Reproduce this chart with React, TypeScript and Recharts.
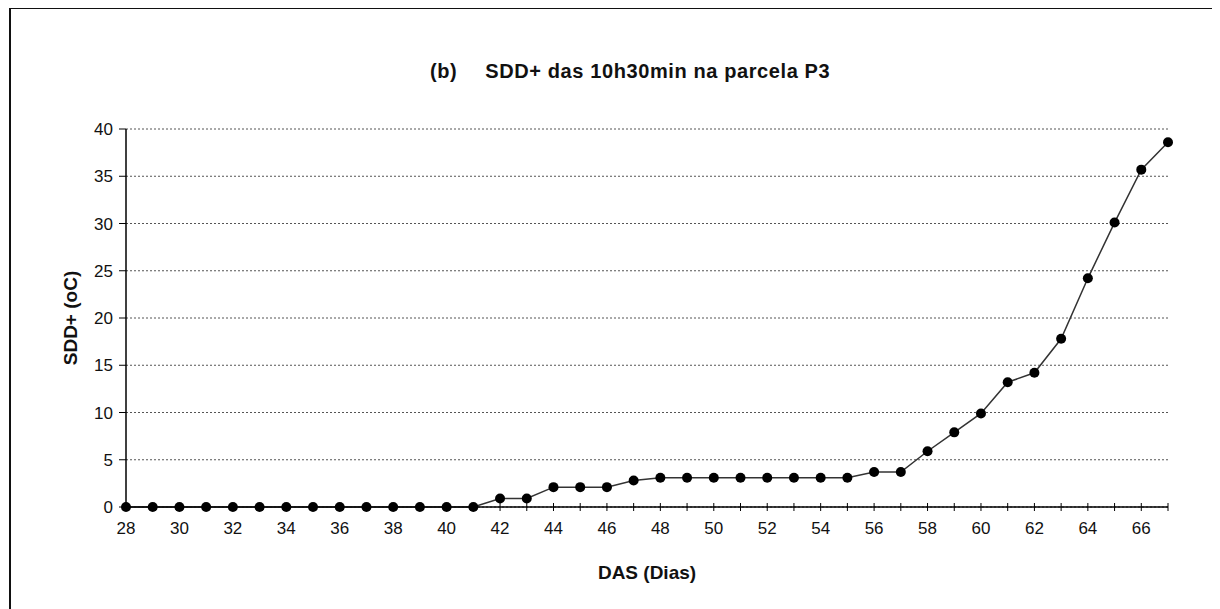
import React from "react";
import { CartesianGrid, Line, LineChart, XAxis, YAxis } from "recharts";

const days = [
  28, 29, 30, 31, 32, 33, 34, 35, 36, 37, 38, 39, 40, 41, 42, 43, 44, 45, 46, 47,
  48, 49, 50, 51, 52, 53, 54, 55, 56, 57, 58, 59, 60, 61, 62, 63, 64, 65, 66, 67
];

const sddPlus = [
  0, 0, 0, 0, 0, 0, 0, 0, 0, 0, 0, 0, 0, 0, 0.9, 0.9, 2.1, 2.1, 2.1, 2.8,
  3.1, 3.1, 3.1, 3.1, 3.1, 3.1, 3.1, 3.1, 3.7, 3.7, 5.9, 7.9, 9.9, 13.2, 14.2, 17.8, 24.2, 30.1, 35.7, 38.6
];

const yTicks = [0, 5, 10, 15, 20, 25, 30, 35, 40];

const FONT = '"Liberation Sans", Arial, sans-serif';

const data = days.map((day, i) => ({ day, value: sddPlus[i] }));

function DayTick(props: any) {
  const { x, y, payload } = props;
  const showLabel = payload.value % 2 === 0;
  return (
    <g>
      <line x1={x} x2={x} y1={y - 4} y2={y + 4} stroke="#000" strokeWidth={1} />
      {showLabel && (
        <text x={x} y={y + 27} textAnchor="middle" fontSize={17} fontFamily={FONT} fill="#111">
          {payload.value}
        </text>
      )}
    </g>
  );
}

export default function App() {
  return (
    <div style={{ position: "relative", width: 1212, height: 601, fontFamily: FONT }}>
      <div
        style={{
          position: "absolute",
          left: 1,
          top: -1,
          right: -20,
          bottom: -20,
          borderTop: "2px solid #111",
          borderLeft: "2px solid #111"
        }}
      />
      <div
        style={{
          position: "absolute",
          left: 422,
          top: 52,
          fontSize: 20,
          fontWeight: "bold",
          letterSpacing: 0.6,
          color: "#111",
          whiteSpace: "pre"
        }}
      >
        <span>(b)</span>
        <span style={{ marginLeft: 28 }}>SDD+ das 10h30min na parcela P3</span>
      </div>
      <LineChart width={1212} height={601} data={data} margin={{ top: 121, right: 52, left: 58, bottom: 62 }}>
        <CartesianGrid vertical={false} stroke="#555" strokeDasharray="2 2" />
        <XAxis
          dataKey="day"
          type="number"
          domain={[28, 67]}
          ticks={days}
          interval={0}
          height={40}
          tickSize={0}
          tickMargin={0}
          tick={<DayTick />}
          axisLine={{ stroke: "#000", strokeWidth: 1.5 }}
          label={{
            content: (p: any) => (
              <text
                x={p.viewBox.x + p.viewBox.width / 2}
                y={p.viewBox.y + 72}
                textAnchor="middle"
                fontSize={19}
                fontWeight="bold"
                fontFamily={FONT}
                fill="#111"
              >
                DAS (Dias)
              </text>
            )
          }}
        />
        <YAxis
          type="number"
          domain={[0, 40]}
          ticks={yTicks}
          interval={0}
          width={60}
          tickSize={7}
          tickMargin={6}
          tick={{ fontSize: 17, fill: "#111", fontFamily: FONT }}
          tickLine={{ stroke: "#000" }}
          axisLine={{ stroke: "#000", strokeWidth: 1.5 }}
          label={{
            content: (p: any) => {
              const cx = p.viewBox.x + 4;
              const cy = p.viewBox.y + p.viewBox.height / 2;
              return (
                <text
                  x={cx}
                  y={cy}
                  transform={`rotate(-90, ${cx}, ${cy})`}
                  textAnchor="middle"
                  dominantBaseline="central"
                  fontSize={19}
                  fontWeight="bold"
                  fontFamily={FONT}
                  fill="#111"
                >
                  SDD+ (oC)
                </text>
              );
            }
          }}
        />
        <Line
          type="linear"
          dataKey="value"
          stroke="#333"
          strokeWidth={1.5}
          dot={{ r: 5, fill: "#000", stroke: "#000", strokeWidth: 0 }}
          activeDot={false}
          isAnimationActive={false}
        />
      </LineChart>
    </div>
  );
}
